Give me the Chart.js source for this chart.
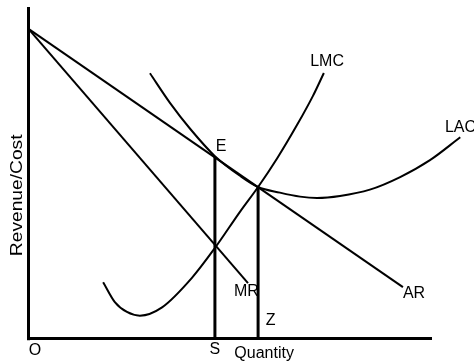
<!DOCTYPE html>
<html>
<head>
<meta charset="utf-8">
<script src="https://cdn.jsdelivr.net/npm/chart.js@4.4.1/dist/chart.umd.min.js"></script>
<style>
  html, body { margin: 0; padding: 0; background: #fff; }
  #wrap { width: 474px; height: 362px; position: relative; }
</style>
</head>
<body>
<div id="wrap"><canvas id="c"></canvas></div>
<script>
// ===== data (quantity units on x, revenue/cost units on y) =====
const arLine  = [{ x: 0, y: 9.34 }, { x: 9.28, y: 1.55 }];
const mrLine  = [{ x: 0, y: 9.34 }, { x: 5.44, y: 1.67 }];
const lmcCurve = [
  { x: 1.85, y: 1.70 }, { x: 2.14, y: 1.10 }, { x: 2.44, y: 0.80 }, { x: 2.76, y: 0.69 },
  { x: 3.31, y: 0.94 }, { x: 4.05, y: 1.83 }, { x: 4.62, y: 2.73 }, { x: 5.24, y: 3.82 },
  { x: 5.69, y: 4.57 }, { x: 6.16, y: 5.43 }, { x: 6.65, y: 6.43 }, { x: 7.05, y: 7.32 },
  { x: 7.32, y: 8.01 }
];
const lacCurve = [
  { x: 3.01, y: 8.00 }, { x: 3.51, y: 7.10 }, { x: 4.01, y: 6.32 }, { x: 4.62, y: 5.50 },
  { x: 5.24, y: 4.91 }, { x: 5.69, y: 4.57 }, { x: 6.23, y: 4.40 }, { x: 6.73, y: 4.28 },
  { x: 7.15, y: 4.24 }, { x: 7.72, y: 4.30 }, { x: 8.46, y: 4.49 }, { x: 9.21, y: 4.87 },
  { x: 9.95, y: 5.38 }, { x: 10.70, y: 6.07 }
];
const sLine = [{ x: 4.62, y: 0 }, { x: 4.62, y: 5.48 }];
const zLine = [{ x: 5.69, y: 0 }, { x: 5.69, y: 4.57 }];
const yAxisLine = [{ x: 0, y: -0.05 }, { x: 0, y: 10 }];
const xAxisLine = [{ x: 0, y: 0 }, { x: 10, y: 0 }];

// text labels: [text, x, y, align]
const textLabels = [
  ['E', 4.77, 5.78, 'center'],
  ['LMC', 7.40, 8.34, 'center'],
  ['LAC', 10.32, 6.35, 'left'],
  ['MR', 5.40, 1.40, 'center'],
  ['AR', 9.28, 1.36, 'left'],
  ['Z', 6.00, 0.54, 'center'],
  ['S', 4.62, -0.33, 'center'],
  ['Quantity', 5.84, -0.47, 'center'],
  ['O', 0.16, -0.35, 'center']
];
const yTitle = ['Revenue/Cost', -0.26, 4.32];

function ds(data, width, smooth) {
  return {
    data, showLine: true, pointRadius: 0, borderColor: '#000', borderWidth: width,
    cubicInterpolationMode: smooth ? 'monotone' : 'default', tension: 0,
    clip: false, borderCapStyle: 'butt'
  };
}

// plugin วาดข้อความบนกราฟ
const labelPlugin = {
  id: 'labels',
  afterDatasetsDraw(chart) {
    const { ctx, scales: { x, y } } = chart;
    ctx.save();
    ctx.fillStyle = '#000';
    ctx.font = '16px "Liberation Sans", Arial, sans-serif';
    ctx.textBaseline = 'middle';
    textLabels.forEach(([t, vx, vy, al]) => {
      ctx.textAlign = al;
      ctx.fillText(t, x.getPixelForValue(vx), y.getPixelForValue(vy));
    });
    // y title, rotated + stretched a bit
    ctx.translate(x.getPixelForValue(yTitle[1]), y.getPixelForValue(yTitle[2]));
    ctx.rotate(-Math.PI / 2);
    ctx.scale(1.2, 1);
    ctx.textAlign = 'center';
    ctx.fillText(yTitle[0], 0, 0);
    ctx.restore();
  }
};

new Chart(document.getElementById('c'), {
  type: 'scatter',
  data: {
    datasets: [
      ds(yAxisLine, 3), ds(xAxisLine, 3),
      ds(arLine, 2), ds(mrLine, 2),
      ds(lmcCurve, 2, true), ds(lacCurve, 2, true),
      ds(sLine, 3), ds(zLine, 3)
    ]
  },
  options: {
    responsive: true, maintainAspectRatio: false, animation: false,
    layout: { padding: { left: 28.5, right: 42, top: 7, bottom: 23.5 } },
    plugins: { legend: { display: false }, tooltip: { enabled: false } },
    scales: {
      x: { type: 'linear', display: false, min: 0, max: 10 },
      y: { type: 'linear', display: false, min: 0, max: 10 }
    }
  },
  plugins: [labelPlugin]
});
</script>
</body>
</html>
